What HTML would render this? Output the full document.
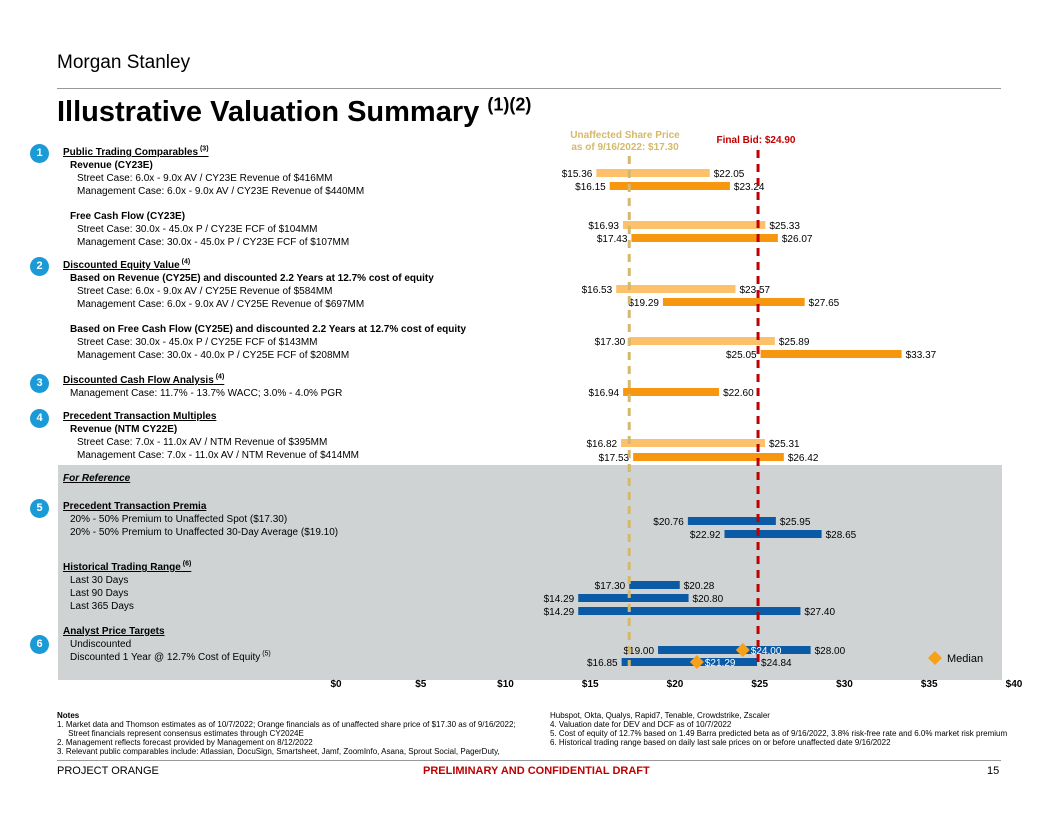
<!DOCTYPE html>
<html><head><meta charset="utf-8"><style>
body{margin:0;width:1056px;height:816px;background:#fff;font-family:"Liberation Sans",Arial,sans-serif;position:relative;overflow:hidden;color:#000}
sup{line-height:0}
.t{position:absolute;font-size:10px;white-space:nowrap;line-height:12px}
.b{font-weight:bold}.u{text-decoration:underline}
.c{position:absolute;width:19px;height:19px;border-radius:50%;background:#1a9ad6;color:#fff;font-size:11px;font-weight:bold;text-align:center;line-height:19px}
</style></head><body>
<div class="t" style="left:57px;top:52px;font-size:19px;line-height:22px">Morgan Stanley</div>
<div style="position:absolute;left:57px;top:88px;width:944px;height:1px;background:#999"></div>
<div class="t b" style="left:57px;top:95px;font-size:29px;line-height:34px">Illustrative Valuation Summary <sup style="font-size:18px">(1)(2)</sup></div>
<div style="position:absolute;left:58px;top:465px;width:944px;height:215px;background:#d0d3d4"></div>

<div class="c" style="left:30px;top:144px">1</div>
<div class="c" style="left:30px;top:257px">2</div>
<div class="c" style="left:30px;top:374px">3</div>
<div class="c" style="left:30px;top:409px">4</div>
<div class="c" style="left:30px;top:499px">5</div>
<div class="c" style="left:30px;top:635px">6</div>

<div>
<div class="t b u" style="left:63px;top:147px">Public Trading Comparables<sup style="font-size:7px"> (3)</sup></div>
<div class="t b" style="left:70px;top:160px">Revenue (CY23E)</div>
<div class="t" style="left:77px;top:173px">Street Case: 6.0x - 9.0x AV /  CY23E Revenue of $416MM</div>
<div class="t" style="left:77px;top:186px">Management Case: 6.0x - 9.0x AV / CY23E Revenue of $440MM</div>
<div class="t b" style="left:70px;top:211px">Free Cash Flow (CY23E)</div>
<div class="t" style="left:77px;top:224px">Street Case: 30.0x - 45.0x P /  CY23E FCF of $104MM</div>
<div class="t" style="left:77px;top:237px">Management Case: 30.0x - 45.0x P / CY23E FCF of $107MM</div>
<div class="t b u" style="left:63px;top:260px">Discounted Equity Value<sup style="font-size:7px"> (4)</sup></div>
<div class="t b" style="left:70px;top:273px">Based on Revenue (CY25E) and discounted 2.2 Years at 12.7% cost of equity</div>
<div class="t" style="left:77px;top:286px">Street Case: 6.0x - 9.0x AV / CY25E Revenue of $584MM</div>
<div class="t" style="left:77px;top:299px">Management Case: 6.0x - 9.0x AV / CY25E Revenue of $697MM</div>
<div class="t b" style="left:70px;top:324px">Based on Free Cash Flow (CY25E) and discounted 2.2 Years at 12.7% cost of equity</div>
<div class="t" style="left:77px;top:337px">Street Case: 30.0x - 45.0x P / CY25E FCF of $143MM</div>
<div class="t" style="left:77px;top:350px">Management Case: 30.0x - 40.0x P / CY25E FCF of $208MM</div>
<div class="t b u" style="left:63px;top:375px">Discounted Cash Flow Analysis<sup style="font-size:7px"> (4)</sup></div>
<div class="t" style="left:70px;top:388px">Management Case: 11.7% - 13.7% WACC; 3.0% - 4.0% PGR</div>
<div class="t b u" style="left:63px;top:411px">Precedent Transaction Multiples</div>
<div class="t b" style="left:70px;top:424px">Revenue (NTM CY22E)</div>
<div class="t" style="left:77px;top:437px">Street Case: 7.0x - 11.0x AV /  NTM Revenue of $395MM</div>
<div class="t" style="left:77px;top:450px">Management Case: 7.0x - 11.0x AV /  NTM Revenue of $414MM</div>
<div class="t b u" style="left:63px;top:473px;font-style:italic">For Reference</div>
<div class="t b u" style="left:63px;top:501px">Precedent Transaction Premia</div>
<div class="t" style="left:70px;top:514px">20% - 50% Premium to Unaffected Spot ($17.30)</div>
<div class="t" style="left:70px;top:527px">20% - 50% Premium to Unaffected 30-Day Average ($19.10)</div>
<div class="t b u" style="left:63px;top:562px">Historical Trading Range<sup style="font-size:7px"> (6)</sup></div>
<div class="t" style="left:70px;top:575px">Last 30 Days</div>
<div class="t" style="left:70px;top:588px">Last 90 Days</div>
<div class="t" style="left:70px;top:601px">Last 365 Days</div>
<div class="t b u" style="left:63px;top:626px">Analyst Price Targets</div>
<div class="t" style="left:70px;top:639px">Undiscounted</div>
<div class="t" style="left:70px;top:652px">Discounted 1 Year @ 12.7% Cost of Equity<sup style="font-size:7px"> (5)</sup></div>
</div>

<svg id="chart" style="position:absolute;left:0;top:0" width="1056" height="816"></svg>

<div>
<div class="t b" style="left:57px;top:711px;font-size:8px;line-height:9px">Notes</div>
<div class="t" style="left:57px;top:720px;font-size:8px;line-height:9px">1.  Market data and Thomson estimates as of 10/7/2022; Orange financials as of unaffected share price of $17.30 as of 9/16/2022;<br>&nbsp;&nbsp;&nbsp;&nbsp;&nbsp;Street financials represent consensus estimates through CY2024E<br>2.  Management reflects forecast provided by Management on 8/12/2022<br>3.  Relevant public comparables include: Atlassian, DocuSign, Smartsheet, Jamf, ZoomInfo, Asana, Sprout Social, PagerDuty,</div>
<div class="t" style="left:550px;top:711px;font-size:8px;line-height:9px">Hubspot, Okta, Qualys, Rapid7, Tenable, Crowdstrike, Zscaler<br>4.  Valuation date for DEV and DCF as of 10/7/2022<br>5.  Cost of equity of 12.7% based on 1.49 Barra predicted beta as of 9/16/2022, 3.8% risk-free rate and 6.0% market risk premium<br>6.  Historical trading range based on daily last sale prices on or before unaffected date 9/16/2022</div>
</div>
<div style="position:absolute;left:57px;top:760px;width:944px;height:1px;background:#999"></div>
<div class="t" style="left:57px;top:765px;font-size:11px">PROJECT ORANGE</div>
<div class="t b" style="left:423px;top:765px;font-size:11px;color:#c00000">PRELIMINARY AND CONFIDENTIAL DRAFT</div>
<div class="t" style="left:987px;top:765px;font-size:11px">15</div>

<script>
const rowY=[173,186,225,238,289,302,341,354,392,443,457,521,534,585,598,611,650,662];
const lows=[15.36,16.15,16.93,17.43,16.53,19.29,17.30,25.05,16.94,16.82,17.53,20.76,22.92,17.30,14.29,14.29,19.00,16.85];
const highs=[22.05,23.24,25.33,26.07,23.57,27.65,25.89,33.37,22.60,25.31,26.42,25.95,28.65,20.28,20.80,27.40,28.00,24.84];
const kinds=['l','d','l','d','l','d','l','d','d','l','d','b','b','b','b','b','b','b'];
const medians=[null,null,null,null,null,null,null,null,null,null,null,null,null,null,null,null,24.00,21.29];
const ticks=[0,5,10,15,20,25,30,35,40];
const unaffected=17.30, finalBid=24.90;
const x=v=>336+v*16.95;
const colors={l:'#fcc16a',d:'#f7960f',b:'#0b5aa6'};
const svg=document.getElementById('chart');
const NS='http://www.w3.org/2000/svg';
function mk(tag,attrs,text){const e=document.createElementNS(NS,tag);for(const k in attrs)e.setAttribute(k,attrs[k]);if(text!=null)e.textContent=text;svg.appendChild(e);return e;}
const f=v=>'$'+v.toFixed(2);
ticks.forEach(t=>{const e=mk('text',{x:x(t),y:687,'text-anchor':'middle','font-size':10,'font-weight':'bold','font-family':'Liberation Sans, Arial, sans-serif'},'$'+t);

});
rowY.forEach((y,i)=>{
 const r=mk('rect',{x:x(lows[i]),y:y-4,width:x(highs[i])-x(lows[i]),height:8,fill:colors[kinds[i]]});
 
 
 const a=mk('text',{x:x(lows[i])-4,y:y+4,'text-anchor':'end','font-size':10,'font-family':'Liberation Sans, Arial, sans-serif'},f(lows[i]));
 
 
 const b=mk('text',{x:x(highs[i])+4,y:y+4,'font-size':10,'font-family':'Liberation Sans, Arial, sans-serif'},f(highs[i]));
 
 
});
const l1=mk('line',{x1:x(unaffected),x2:x(unaffected),y1:156,y2:666,stroke:'#d4b96a','stroke-width':3,'stroke-dasharray':'8,6'});


const l2=mk('line',{x1:x(finalBid),x2:x(finalBid),y1:150,y2:668,stroke:'#c00000','stroke-width':3,'stroke-dasharray':'8,6'});


rowY.forEach((y,i)=>{if(medians[i]==null)return;
 const d=mk('path',{d:`M${x(medians[i])} ${y-7}l7 7l-7 7l-7-7z`,fill:'#f7a11a'});
 
 
 const t=mk('text',{x:x(medians[i])+8,y:y+4,'font-size':10,fill:'#fff','font-family':'Liberation Sans, Arial, sans-serif'},f(medians[i]));
 
 
});
const lg=mk('path',{d:'M935 651l7 7l-7 7l-7-7z',fill:'#f7a11a'});


const lt=mk('text',{x:947,y:662,'font-size':11,'font-family':'Liberation Sans, Arial, sans-serif'},'Median');


const u1=mk('text',{x:625,y:138,'text-anchor':'middle','font-size':10,'font-weight':'bold',fill:'#d4b96a','font-family':'Liberation Sans, Arial, sans-serif'},'Unaffected Share Price');


const u2=mk('text',{x:625,y:150,'text-anchor':'middle','font-size':10,'font-weight':'bold',fill:'#d4b96a','font-family':'Liberation Sans, Arial, sans-serif'},'as of 9/16/2022: $17.30');


const fb=mk('text',{x:756,y:143,'text-anchor':'middle','font-size':10,'font-weight':'bold',fill:'#c00000','font-family':'Liberation Sans, Arial, sans-serif'},'Final Bid: $24.90');


</script>
</body></html>
